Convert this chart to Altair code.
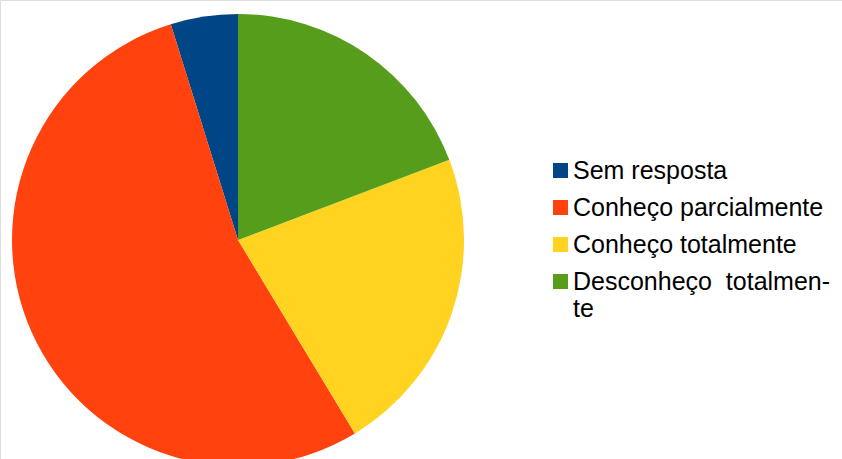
import altair as alt
import pandas as pd

categories = ["Sem resposta", "Conheço parcialmente", "Conheço totalmente", "Desconheço totalmente"]
counts = [5, 56, 23, 20]
draw_order = [4, 3, 2, 1]
colors = ["#004586", "#ff420e", "#ffd320", "#579d1c"]

df = pd.DataFrame({"categoria": categories, "valor": counts, "ordem": draw_order})

label_expr = ("datum.label == 'Desconheço totalmente' ? "
              "['Desconheço\u00a0\u00a0totalmen-', 'te'] : datum.label")

chart = alt.Chart(df).mark_arc(radius=226, stroke=None).encode(
    theta=alt.Theta("valor:Q", stack=True),
    order=alt.Order("ordem:Q"),
    x=alt.value(238),
    y=alt.value(240),
    color=alt.Color(
        "categoria:N",
        scale=alt.Scale(domain=categories, range=colors),
        sort=categories,
        legend=alt.Legend(
            title=None,
            orient="none",
            legendX=548,
            legendY=158,
            symbolType="square",
            symbolSize=225,
            symbolStrokeWidth=0,
            labelFont="Liberation Sans",
            labelFontSize=25,
            labelColor="#000000",
            labelOffset=0,
            labelLimit=400,
            rowPadding=11,
            labelExpr=label_expr,
        ),
    ),
).properties(
    width=842,
    height=459,
    padding=0,
    autosize=alt.AutoSizeParams(type="none"),
).configure_view(stroke=None).configure(background="white")

chart.save("out.html", embed_options={"renderer": "svg", "actions": False})
